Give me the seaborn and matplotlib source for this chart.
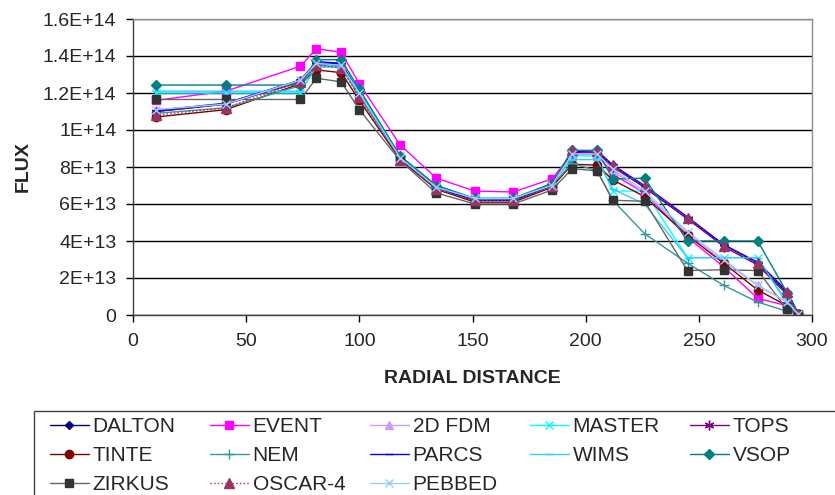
import numpy as np
import pandas as pd
import matplotlib
matplotlib.use("Agg")
import matplotlib.pyplot as plt
from matplotlib.patches import Rectangle
import seaborn as sns

# ---------------- data (flux in units of 1E13) ----------------
radial = [10, 41, 74, 81, 92, 100, 118, 134, 151, 168, 185, 194, 205, 212, 226, 245, 261, 276, 289, 294]

dalton = [11.0, 11.4, 12.7, 13.6, 13.6, 12.0, 8.5, 6.9, 6.2, 6.2, 7.0, 8.8, 8.8, 8.1, 6.9, 5.2, 3.8, 2.8, 1.2, 0.05]
event  = [11.6, 12.1, 13.45, 14.4, 14.2, 12.5, 9.2, 7.4, 6.7, 6.65, 7.35, 8.7, 8.7, 7.6, 6.6, 4.2, 2.6, 0.9, 0.5, 0.05]
fdm2d  = [11.1, 11.4, 12.7, 13.6, 13.5, 12.0, 8.5, 6.9, 6.3, 6.3, 7.0, 8.8, 8.8, 7.8, 6.6, 4.4, 2.9, 1.6, 0.7, 0.05]
master = [12.0, 12.0, 12.0, 13.5, 13.5, 12.2, 8.6, 7.0, 6.3, 6.3, 7.1, 8.6, 8.6, 6.7, 6.7, 3.1, 3.1, 3.1, 0.7, 0.05]
tops   = [11.0, 11.4, 12.6, 13.6, 13.5, 12.0, 8.5, 6.9, 6.2, 6.2, 7.0, 8.8, 8.8, 8.0, 6.9, 5.2, 3.7, 2.7, 1.1, 0.05]
tinte  = [10.7, 11.1, 12.5, 13.25, 13.1, 11.6, 8.4, 6.8, 6.1, 6.1, 6.9, 8.15, 8.1, 7.3, 6.4, 4.3, 2.8, 1.35, 0.5, 0.05]
nem    = [10.9, 11.2, 12.4, 13.5, 13.4, 11.8, 8.5, 6.9, 6.2, 6.2, 7.0, 8.2, 7.8, 6.2, 4.4, 2.8, 1.6, 0.7, 0.2, 0.05]
parcs  = [11.05, 11.45, 12.7, 13.7, 13.6, 12.0, 8.5, 6.9, 6.2, 6.2, 7.0, 8.8, 8.9, 8.1, 7.0, 5.3, 3.8, 2.85, 1.3, 0.05]
wims   = [12.1, 12.1, 12.1, 13.4, 13.4, 12.0, 8.6, 7.0, 6.3, 6.3, 7.1, 8.4, 8.4, 6.8, 6.0, 3.1, 3.1, 3.1, 0.6, 0.05]
vsop   = [12.43, 12.43, 12.43, 13.8, 13.8, 12.2, 8.6, 7.0, 6.3, 6.3, 7.1, 8.9, 8.9, 7.35, 7.4, 4.0, 4.0, 4.0, 1.2, 0.05]
zirkus = [11.65, 11.65, 11.65, 12.8, 12.6, 11.1, 8.35, 6.6, 6.0, 6.0, 6.75, 7.9, 7.8, 6.2, 6.15, 2.4, 2.45, 2.4, 0.3, 0.05]
oscar4 = [10.8, 11.2, 12.6, 13.5, 13.35, 11.8, 8.4, 6.8, 6.2, 6.2, 7.0, 8.9, 8.85, 8.1, 6.95, 5.25, 3.75, 2.8, 1.25, 0.05]
pebbed = [11.1, 11.4, 12.7, 13.6, 13.5, 12.0, 8.5, 6.9, 6.3, 6.3, 7.0, 8.7, 8.7, 7.9, 6.7, 4.5, 3.0, 1.6, 0.7, 0.05]

codes = ["DALTON", "EVENT", "2D FDM", "MASTER", "TOPS",
         "TINTE", "NEM", "PARCS", "WIMS", "VSOP",
         "ZIRKUS", "OSCAR-4", "PEBBED"]
series = [dalton, event, fdm2d, master, tops, tinte, nem, parcs, wims, vsop, zirkus, oscar4, pebbed]

y_ticks = [0, 2e13, 4e13, 6e13, 8e13, 1e14, 1.2e14, 1.4e14, 1.6e14]
y_tick_labels = ["0", "2E+13", "4E+13", "6E+13", "8E+13", "1E+14", "1.2E+14", "1.4E+14", "1.6E+14"]
x_ticks = [0, 50, 100, 150, 200, 250, 300]

# ---------------- styles ----------------
styles = {
    "DALTON":  dict(color="#000080", marker="D", ms=4, ls="-", mfc="#000080"),
    "EVENT":   dict(color="#FF00FF", marker="s", ms=6, ls="-", mfc="#FF00FF"),
    "2D FDM":  dict(color="#CC99FF", marker="^", ms=6, ls="-", mfc="#CC99FF"),
    "MASTER":  dict(color="#00FFFF", marker="x", ms=6, ls="-", mfc="#00FFFF"),
    "TOPS":    dict(color="#800080", marker=(6, 2, 0), ms=7, ls="-", mfc="#800080"),
    "TINTE":   dict(color="#800000", marker="o", ms=6, ls="-", mfc="#800000"),
    "NEM":     dict(color="#339999", marker="+", ms=7, ls="-", mfc="#339999"),
    "PARCS":   dict(color="#0000FF", marker="_", ms=6, ls="-", mfc="#0000FF"),
    "WIMS":    dict(color="#33CCFF", marker="_", ms=6, ls="-", mfc="#33CCFF"),
    "VSOP":    dict(color="#008080", marker="D", ms=5, ls="-", mfc="#008080"),
    "ZIRKUS":  dict(color="#666666", marker="s", ms=6, ls="-", mfc="#333333"),
    "OSCAR-4": dict(color="#993366", marker="^", ms=7, ls=":", mfc="#993366"),
    "PEBBED":  dict(color="#99CCFF", marker="x", ms=6, ls="-", mfc="#99CCFF"),
}

sns.set_style("ticks")
plt.rcParams["font.family"] = ["Liberation Sans", "DejaVu Sans"]

fig = plt.figure(figsize=(8.35, 4.95), dpi=100)
ax = fig.add_axes([133 / 835, 1 - 315 / 495, (812 - 133) / 835, (315 - 19) / 495])

for name, vals in zip(codes, series):
    st = styles[name]
    df = pd.DataFrame({"r": radial, "flux": np.array(vals) * 1e13})
    sns.lineplot(data=df, x="r", y="flux", ax=ax, sort=False, estimator=None,
                 color=st["color"], marker=st["marker"], markersize=st["ms"],
                 linestyle=st["ls"], linewidth=1.0,
                 markerfacecolor=st["mfc"], markeredgecolor=st["mfc"],
                 markeredgewidth=1.0, label=name)

if ax.get_legend() is not None:
    ax.get_legend().remove()

ax.set_xlim(0, 300)
ax.set_ylim(0, 1.6e14)
ax.set_xticks(x_ticks)
ax.set_xticklabels([str(t) for t in x_ticks])
ax.set_yticks(y_ticks)
ax.set_yticklabels(y_tick_labels)
ax.tick_params(axis="both", labelsize=14, direction="out", length=5, width=1, color="black")
ax.tick_params(axis="y", pad=7)
ax.tick_params(axis="x", pad=8)
ax.yaxis.grid(True, color="black", linewidth=1.0)
ax.xaxis.grid(False)
ax.set_axisbelow(True)
for side in ["left", "bottom"]:
    ax.spines[side].set_color("#404040")
    ax.spines[side].set_linewidth(1.0)
for side in ["top", "right"]:
    ax.spines[side].set_visible(True)
    ax.spines[side].set_color("#909090")
    ax.spines[side].set_linewidth(1.0)

ax.set_xlabel("RADIAL DISTANCE", fontsize=14, fontweight="bold")
ax.set_ylabel("FLUX", fontsize=14, fontweight="bold")
ax.xaxis.set_label_coords(0.5, -(370 - 315) / 296)
ax.yaxis.set_label_coords(-(133 - 32) / 679, 0.5)

# ---------------- legend ----------------
handles, labels = ax.get_legend_handles_labels()
hmap = dict(zip(labels, handles))
ncol = 5
col_x = [50, 210, 370, 530, 690]
for c in range(ncol):
    names = codes[c::ncol]
    fig.legend([hmap[n] for n in names], names, loc="upper left",
               bbox_to_anchor=(col_x[c] / 835, 1 - 417 / 495),
               bbox_transform=fig.transFigure, frameon=False, fontsize=15,
               borderpad=0, borderaxespad=0, handlelength=1.85, handletextpad=0.2,
               labelspacing=0.48, numpoints=1)

fig.add_artist(Rectangle((34 / 835, -0.05), (840 - 34) / 835, (495 - 411) / 495 + 0.05,
                         transform=fig.transFigure, fill=False, edgecolor="#404040", linewidth=1.0))

fig.savefig("out.png", dpi=100)
